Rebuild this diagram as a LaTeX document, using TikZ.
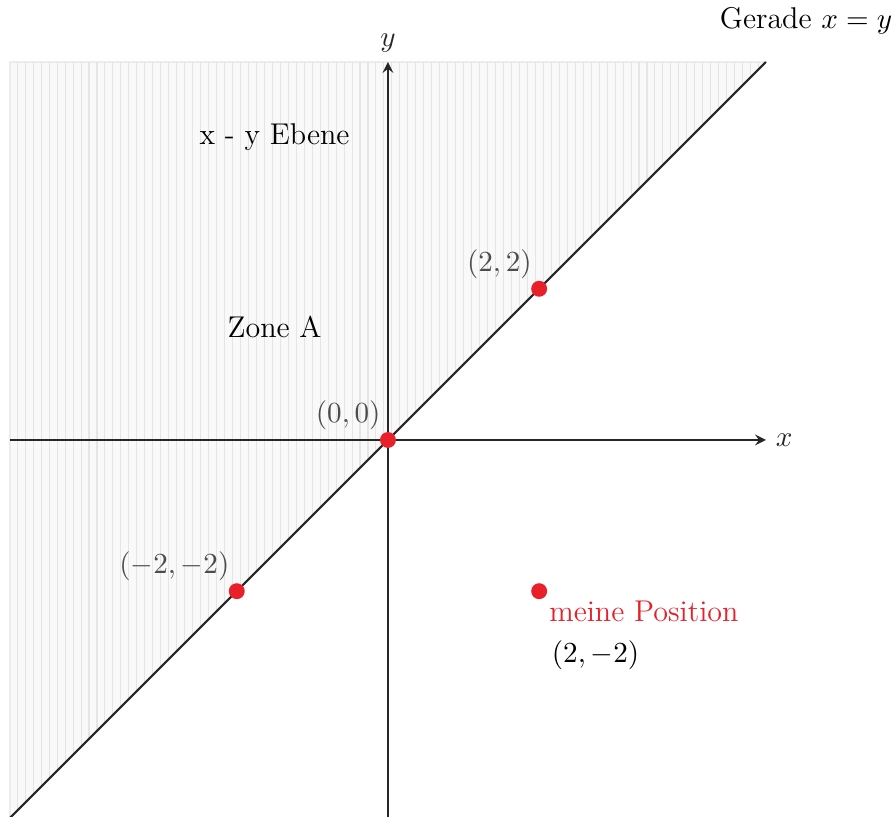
\documentclass[tikz,border=0pt]{standalone}
\usetikzlibrary{patterns,positioning}
\definecolor{punktrot}{RGB}{232,32,42}
\begin{document}
\begin{tikzpicture}[>=stealth, font=\fontsize{11.3}{13.5}\selectfont,
    punkt/.style={circle, fill=punktrot, inner sep=0pt, minimum size=6pt}]
  \useasboundingbox (-5.132,-4.974) rectangle (6.654,5.820);
  % Zone A (schraffiert)
  \fill[gray!5] (-5,-5) -- (-5,5) -- (5,5) -- cycle;
  \draw[gray!20, pattern=vertical lines, pattern color=gray!20] (-5,-5) -- (-5,5) -- (5,5) -- cycle;

  % Achsen
  \coordinate (xl) at (-5,0);
  \coordinate (xr) at (5,0);
  \coordinate (yu) at (0,-5);
  \coordinate (yo) at (0,5);
  \draw[->, thick, black!85] (xl) -- (xr) node[right] {$x$};
  \draw[->, thick, black!85] (yu) -- (yo) node[above] {$y$};

  % Gerade x = y
  \coordinate (gu) at (-5,-5);
  \coordinate (go) at (5,5);
  \draw[thick, black!85] (gu) -- (go);
  \node (gerade) at (5.53,5.55) {Gerade $x=y$};

  % Texte
  \node (ebene) at (-1.5,4) {x - y Ebene};
  \node (zone) at (-1.5,1.5) {Zone A};

  % Punkte
  \node[punkt] (O) at (0,0) {};
  \node[punkt] (P) at (2,2) {};
  \node[punkt] (Q) at (-2,-2) {};
  \node[punkt] (M) at (2,-2) {};
  \node[above left=-2pt and -3pt of O, black!70] {$(0,0)$};
  \node[above left=-2pt and -3pt of P, black!70] {$(2,2)$};
  \node[above left=-2pt and -3pt of Q, black!70] {$(-2,-2)$};
  \node[below right=-2pt and -2pt of M, punktrot] (mp) {meine Position};
  \node[below=0pt of mp.south west, anchor=north west, xshift=1pt] {$(2,-2)$};
\end{tikzpicture}
\end{document}
